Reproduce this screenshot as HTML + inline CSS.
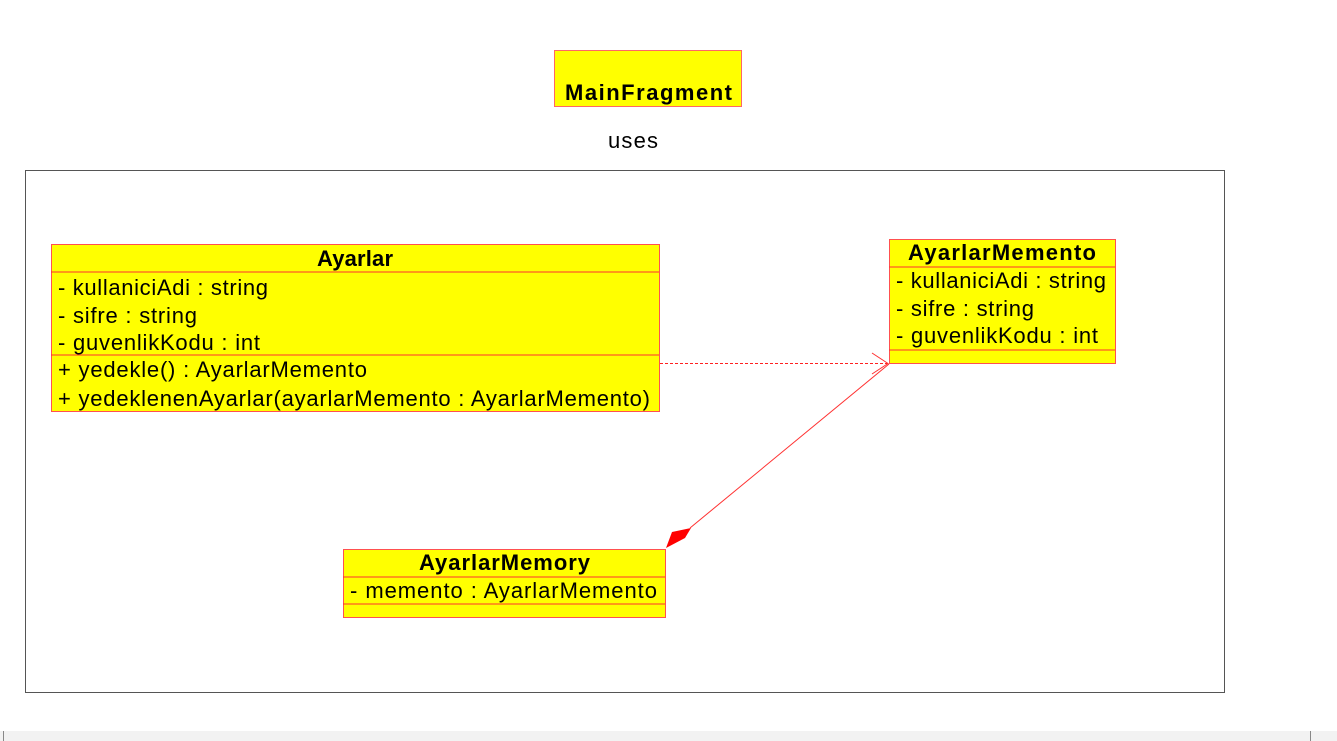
<!DOCTYPE html>
<html><head><meta charset="utf-8"><style>
html,body{margin:0;padding:0;background:#fff;width:1337px;height:741px;overflow:hidden}
svg{display:block}
text{font-family:"Liberation Sans",Arial,sans-serif;fill:#000}
.b{font-weight:bold;font-size:22px}
.t{font-size:22px}
</style></head><body>
<svg width="1337" height="741" viewBox="0 0 1337 741" xmlns="http://www.w3.org/2000/svg">
<rect x="554.5" y="50.5" width="187" height="56" fill="#ffff00" stroke="#ff6666"/>
<text class="b" x="565" y="100" textLength="167" lengthAdjust="spacing">MainFragment</text>
<text class="t" x="608" y="148" textLength="50" lengthAdjust="spacing">uses</text>
<rect x="25.5" y="170.5" width="1199" height="522" fill="#fff" stroke="#555"/>

<rect x="51.5" y="244.5" width="608" height="167" fill="#ffff00" stroke="#ff5050"/>
<line x1="51" y1="272" x2="659" y2="272" stroke="#ff3030"/>
<line x1="51" y1="355" x2="659" y2="355" stroke="#ff3030"/>
<text class="b" x="317" y="266" textLength="76" lengthAdjust="spacing">Ayarlar</text>
<text class="t" x="58" y="295" textLength="210" lengthAdjust="spacing">- kullaniciAdi : string</text>
<text class="t" x="58" y="323" textLength="139" lengthAdjust="spacing">- sifre : string</text>
<text class="t" x="58" y="350" textLength="202" lengthAdjust="spacing">- guvenlikKodu : int</text>
<text class="t" x="58" y="377" textLength="309" lengthAdjust="spacing">+ yedekle() : AyarlarMemento</text>
<text class="t" x="58" y="406" textLength="592" lengthAdjust="spacing">+ yedeklenenAyarlar(ayarlarMemento : AyarlarMemento)</text>

<rect x="889.5" y="239.5" width="226" height="124" fill="#ffff00" stroke="#ff5050"/>
<line x1="889" y1="267" x2="1115" y2="267" stroke="#ff3030"/>
<line x1="889" y1="350" x2="1115" y2="350" stroke="#ff3030"/>
<text class="b" x="908" y="260" textLength="188" lengthAdjust="spacing">AyarlarMemento</text>
<text class="t" x="896" y="288" textLength="210" lengthAdjust="spacing">- kullaniciAdi : string</text>
<text class="t" x="896" y="316" textLength="138" lengthAdjust="spacing">- sifre : string</text>
<text class="t" x="896" y="343" textLength="202" lengthAdjust="spacing">- guvenlikKodu : int</text>

<rect x="343.5" y="549.5" width="322" height="68" fill="#ffff00" stroke="#ff5050"/>
<line x1="343" y1="577" x2="665" y2="577" stroke="#ff3030"/>
<line x1="343" y1="604" x2="665" y2="604" stroke="#ff3030"/>
<text class="b" x="419" y="570" textLength="171" lengthAdjust="spacing">AyarlarMemory</text>
<text class="t" x="350" y="598" textLength="307" lengthAdjust="spacing">- memento : AyarlarMemento</text>

<line x1="660" y1="363.5" x2="888" y2="363.5" stroke="#ff2020" stroke-dasharray="3,2"/>
<polyline points="872,353 888,363.5 872,374" fill="none" stroke="#ff3030"/>
<line x1="690" y1="528" x2="889" y2="364" stroke="#ff3030"/>
<polygon points="666,548 672,532 691,528 685,538" fill="#ff0000"/>

<rect x="0" y="731" width="1337" height="10" fill="#f2f2f2"/>
<line x1="3.5" y1="731" x2="3.5" y2="741" stroke="#888"/>
<line x1="1310.5" y1="731" x2="1310.5" y2="741" stroke="#888"/>
</svg>
</body></html>
